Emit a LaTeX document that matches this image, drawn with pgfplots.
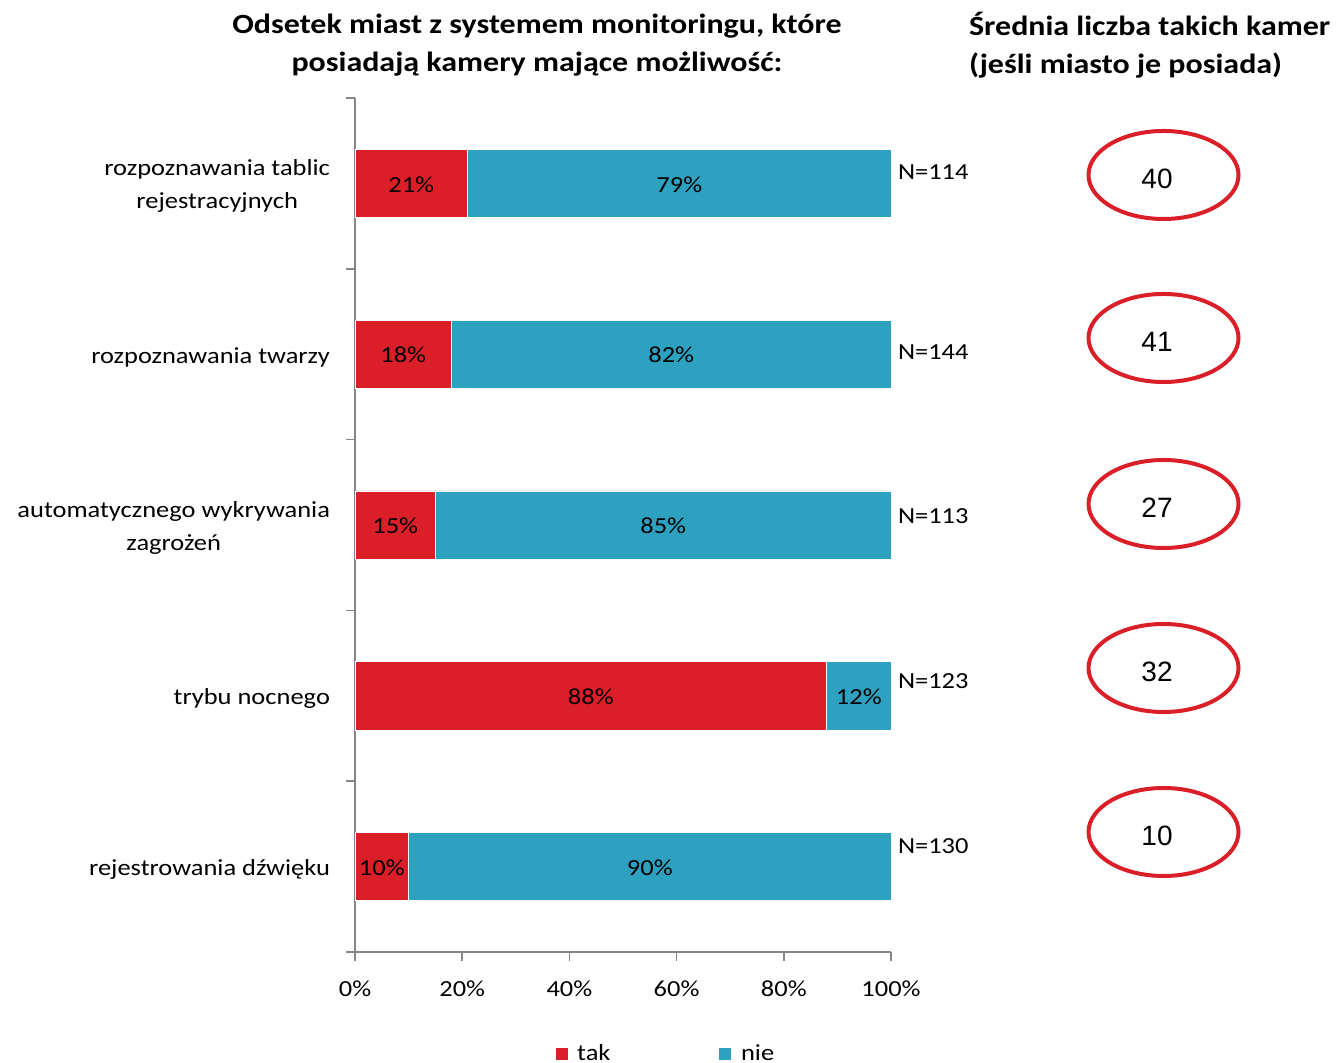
\documentclass[border=0pt]{standalone}
\usepackage{pgfplots}
\pgfplotsset{compat=1.18}
\usepackage{fontspec}
\setmainfont{Carlito}[FakeStretch=1.15]
\newfontfamily\arialfont{Liberation Sans}
\definecolor{takred}{RGB}{218,31,40}
\definecolor{nieblue}{RGB}{45,161,191}
\definecolor{axisgray}{RGB}{134,134,134}
\newcommand{\lblfont}{\fontsize{11.5}{14}\selectfont}
\pgfplotsset{frame/.style={
  at={(177.5pt,55.5pt)}, anchor=south west,
  scale only axis, width=268pt, height=427pt,
  xmin=0, xmax=100, ymin=-0.5, ymax=4.5, clip=false}}

\begin{document}
\begin{tikzpicture}[x=0.5pt,y=0.5pt]
\path[use as bounding box] (0,0) rectangle (1336,1063);
\begin{axis}[
  frame,
  xbar stacked,
  bar width=0.4,
  axis x line=bottom, axis y line=left,
  axis line style={-, draw=axisgray, line width=0.75pt},
  tick style={draw=axisgray, line width=0.75pt},
  tick align=outside,
  major tick length=4.5pt,
  xtick={0,20,...,100},
  xticklabel={\pgfmathprintnumber{\tick}\%},
  /pgf/number format/assume math mode=true,
  xticklabel style={font=\lblfont, yshift=-6.5pt},
  ytick={-0.5,0.5,...,4.5},
  yticklabels={},
  yticklabel style={align=center, font=\fontsize{11.5}{16.5}\selectfont, xshift=-9pt, yshift=-1.5pt},
  extra y ticks={0,1,2,3,4},
  extra y tick labels={{rejestrowania dźwięku},{trybu nocnego},{automatycznego wykrywania\\zagrożeń},{rozpoznawania twarzy},{rozpoznawania tablic\\rejestracyjnych}},
  extra y tick style={major tick length=0pt},
  legend style={at={(0.581,-0.119)}, anchor=center, draw=none, fill=none,
    legend columns=2, font=\lblfont,
    /tikz/every even column/.append style={column sep=52pt},
    /tikz/every odd column/.append style={column sep=2.5pt}},
  legend image code/.code={\fill[#1] (0pt,-3.25pt) rectangle (6.5pt,3.25pt);},
  legend cell align=left,
]
\addplot[fill=takred, draw=white, line width=0.3pt] coordinates {
  (10,0) (88,1) (15,2) (18,3) (21,4)
};
\addlegendentry{tak}
\addplot[fill=nieblue, draw=white, line width=0.3pt] coordinates {
  (90,0) (12,1) (85,2) (82,3) (79,4)
};
\addlegendentry{nie}

\node[font=\lblfont, anchor=west] at (axis cs:100.0,4.067) {N=114};
\node[font=\lblfont, anchor=west] at (axis cs:100.0,3.015) {N=144};
\node[font=\lblfont, anchor=west] at (axis cs:100.0,2.05) {N=113};
\node[font=\lblfont, anchor=west] at (axis cs:100.0,1.085) {N=123};
\node[font=\lblfont, anchor=west] at (axis cs:100.0,0.12) {N=130};
\end{axis}

% value labels, centred in each bar segment
\begin{axis}[frame, hide axis]
\addplot[draw=none, mark=none, nodes near coords, point meta=explicit symbolic,
  nodes near coords align=center,
  every node near coord/.append style={font=\lblfont, text=black, yshift=-0.5pt}]
coordinates {
  (10.5,4) [21\%] (60.5,4) [79\%]
  (9,3)    [18\%] (59,3)   [82\%]
  (7.5,2)  [15\%] (57.5,2) [85\%]
  (44,1)   [88\%] (94,1)   [12\%]
  (5,0)    [10\%] (55,0)   [90\%]
};
\end{axis}

% titles
\node[font=\bfseries\fontsize{13.9}{19}\selectfont, align=center] at (537,1018)
  {Odsetek miast z systemem monitoringu, które\\posiadają kamery mające możliwość:};
\node[font=\bfseries\fontsize{13.9}{19}\selectfont, align=left, anchor=west] at (962,1018)
  {Średnia liczba takich kamer\\(jeśli miasto je posiada)};

% average number ellipses
\foreach \yc/\v in {888/40, 725/41, 559/27, 395/32, 231/10} {
  \draw[takred, line width=2pt] (1163.5,\yc) ellipse [x radius=75, y radius=44];
  \node[font=\arialfont\fontsize{14}{16}\selectfont] at (1157,\yc-4) {\v};
}
\end{tikzpicture}
\end{document}
